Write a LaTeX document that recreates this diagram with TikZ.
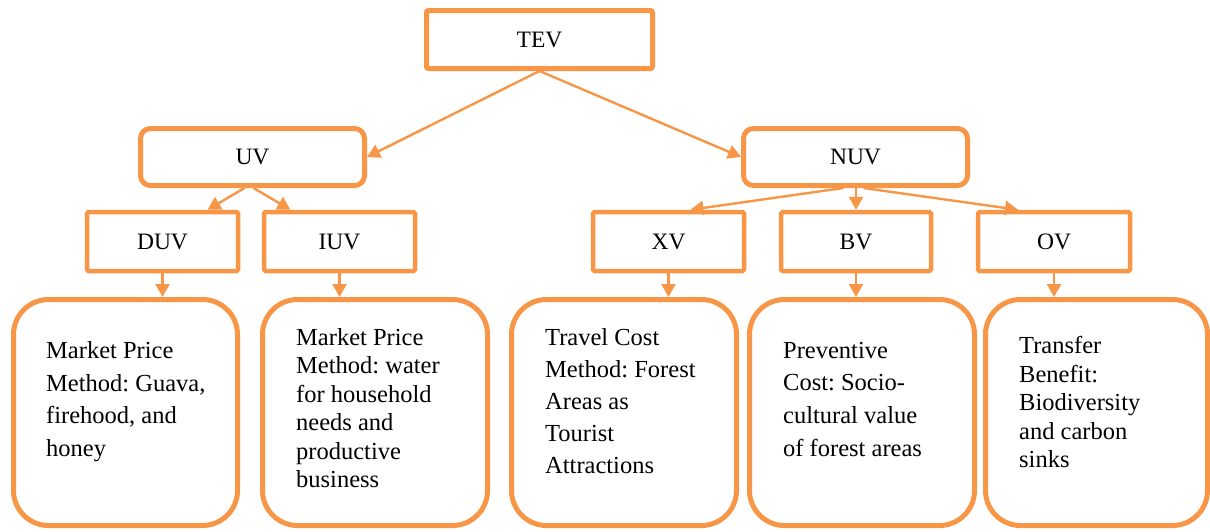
\documentclass[tikz,border=0pt]{standalone}
\usepackage{fontspec}
\setmainfont{Liberation Serif}
\usetikzlibrary{arrows.meta,calc}
\definecolor{org}{HTML}{F79646}
\frenchspacing
\begin{document}
\begin{tikzpicture}[x=1pt,y=-1pt,
  topbox/.style={draw=org,line width=5pt,rounded corners=2pt,inner sep=0pt,font=\fontsize{23.5}{28}\selectfont},
  midbox/.style={draw=org,line width=5pt,rounded corners=10pt,inner sep=0pt,font=\fontsize{23.5}{28}\selectfont},
  subbox/.style={draw=org,line width=4.5pt,rounded corners=1.5pt,inner sep=0pt,font=\fontsize{23.5}{28}\selectfont,minimum height=59pt},
  leafbox/.style={draw=org,line width=5pt,rounded corners=35pt,inner sep=0pt,minimum height=226pt},
  conn/.style={draw=org,line width=2.4pt,-{Triangle[length=13pt 0 0,width=14pt 0 0]}},
  leaftxt/.style={anchor=north west,inner sep=0pt,align=left}]
\useasboundingbox (0,0) rectangle (1210,531);
% boxes
\node[topbox,minimum width=226pt,minimum height=58pt] (TEV) at (539.5,39.5) {TEV};
\node[midbox,minimum width=224pt,minimum height=57pt] (UV) at (252.5,157) {UV};
\node[midbox,minimum width=224pt,minimum height=57pt] (NUV) at (855.5,157) {NUV};
\node[subbox,minimum width=151pt] (DUV) at (162.5,241.5) {DUV};
\node[subbox,minimum width=151pt] (IUV) at (339.5,241.5) {IUV};
\node[subbox,minimum width=151pt] (XV) at (668.5,241.5) {XV};
\node[subbox,minimum width=150pt] (BV) at (856,241.5) {BV};
\node[subbox,minimum width=152pt] (OV) at (1054,241.5) {OV};
\node[leafbox,minimum width=224pt] (L1) at (125.5,412.5) {};
\node[leafbox,minimum width=225pt] (L2) at (375,412.5) {};
\node[leafbox,minimum width=225pt] (L3) at (624,412.5) {};
\node[leafbox,minimum width=225pt] (L4) at (862,412.5) {};
\node[leafbox,minimum width=222pt] (L5) at (1096.5,412.5) {};
% texts
\node[leaftxt,font=\fontsize{24.5}{32.7}\selectfont] (T1) at (46,341.2) {Market Price\\Method: Guava,\\firehood, and\\honey};
\node[leaftxt,font=\fontsize{24.5}{28.4}\selectfont] (T2) at (296,328.2) {Market Price\\Method: water\\for household\\needs and\\productive\\business};
\node[leaftxt,font=\fontsize{24.5}{32}\selectfont] (T3) at (545,328.2) {Travel Cost\\Method: Forest\\Areas as\\Tourist\\Attractions};
\node[leaftxt,font=\fontsize{24.5}{32.7}\selectfont] (T4) at (783,341.8) {Preventive\\Cost: Socio-\\cultural value\\of forest areas};
\node[leaftxt,font=\fontsize{24.5}{28.5}\selectfont] (T5) at (1019,336.2) {Transfer\\Benefit:\\Biodiversity\\and carbon\\sinks};
% connectors
\draw[conn] (TEV.south) -- (UV.east);
\draw[conn] (TEV.south) -- (NUV.west);
\draw[conn] ([xshift=-8pt]UV.south) -- ([xshift=45pt]DUV.north);
\draw[conn] ([xshift=1pt]UV.south) -- ([xshift=-49pt]IUV.north);
\draw[conn] ([xshift=-12pt]NUV.south) -- ([xshift=22pt]XV.north);
\draw[conn] (BV.north |- NUV.south) -- (BV.north);
\draw[conn] ([xshift=8pt]NUV.south) -- ([xshift=-36pt]OV.north);
\draw[conn] (DUV.south) -- (DUV.south |- L1.north);
\draw[conn] (IUV.south) -- (IUV.south |- L2.north);
\draw[conn] (XV.south) -- (XV.south |- L3.north);
\draw[conn] (BV.south) -- (BV.south |- L4.north);
\draw[conn] (OV.south) -- (OV.south |- L5.north);
\end{tikzpicture}
\end{document}
